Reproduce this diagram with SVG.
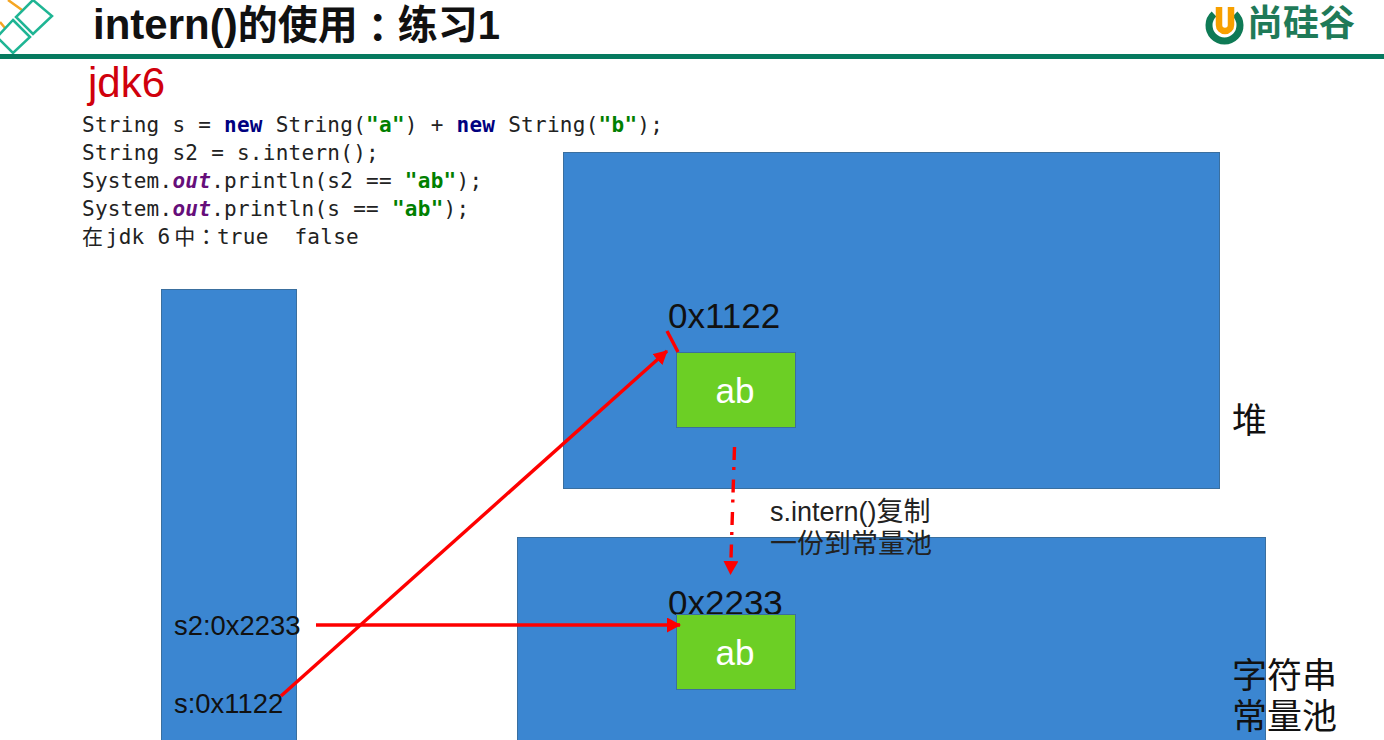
<svg xmlns="http://www.w3.org/2000/svg" width="1384" height="740" viewBox="0 0 1384 740">
<style>
.box{fill:#3b86d1;stroke:#3a6f9f;stroke-width:1}
.small{fill:#6ccf25;stroke:#3a6f9f;stroke-width:1}
text{font-family:"Liberation Sans","Noto Sans CJK SC",sans-serif}
.code{font-family:"DejaVu Sans Mono","Noto Sans CJK SC",monospace;font-size:21px;letter-spacing:.27px;fill:#222;white-space:pre}
.lab{font-size:27.4px;fill:#111}
.addr{font-size:35px;fill:#111}
.cjk{font-size:35px;fill:#111}
.ab{font-size:35px;fill:#fff;text-anchor:middle}
.ln{stroke:#fe0000;stroke-width:3.4;fill:none}
.kw{fill:#00007f;font-weight:bold}
.str{fill:#008000;font-weight:bold}
.fld{fill:#660e7a;font-weight:bold;font-style:italic}
.tc{font-family:"Noto Sans CJK TC",sans-serif}
</style>
<defs>
<marker id="ah" markerUnits="userSpaceOnUse" markerWidth="14" markerHeight="15" refX="13" refY="7.500" orient="auto"><path d="M0 0L14 7.500L0 15Z" fill="#fe0000"/></marker>
</defs>
<rect width="1384" height="740" fill="#fff"/>
<g id="header">
<path d="M8 0L22 10M0 22L5 28" stroke="#f5a623" stroke-width="2.5" fill="none"/>
<path d="M33 0L52 16L33 34L16 17Z" fill="none" stroke="#1fb594" stroke-width="2.5"/>
<path d="M13 20L30 37L13 53L-3 37Z" fill="none" stroke="#1fb594" stroke-width="2.5"/>
<rect x="0" y="54" width="1384" height="5" fill="#067a5f"/>
<text id="title" x="93" y="39" font-size="40" font-weight="bold" fill="#111"><tspan font-size="42">intern()</tspan>的使用<tspan class="tc" dy="3">：</tspan><tspan dy="-3">练习1</tspan></text>
<g id="logo">
<path d="M1214 14A15.500 15.500 0 1 0 1235 14" fill="none" stroke="#0e7a55" stroke-width="7"/>
<path d="M1219 7V25A6 6 0 0 0 1231 25V7" fill="none" stroke="#f7a000" stroke-width="6.500"/>
<text x="1247" y="36" font-size="36" font-weight="bold" fill="#1f7a58">尚硅谷</text>
</g>
</g>
<text id="jdk" x="88" y="97" font-size="42" fill="#d0000c">jdk6</text>
<g id="code">
<text class="code" x="82" y="132">String s = <tspan class="kw">new</tspan> String(<tspan class="str">"a"</tspan>) + <tspan class="kw">new</tspan> String(<tspan class="str">"b"</tspan>);</text>
<text class="code" x="82" y="160">String s2 = s.intern();</text>
<text class="code" x="82" y="188">System.<tspan class="fld">out</tspan>.println(s2 == <tspan class="str">"ab"</tspan>);</text>
<text class="code" x="82" y="216">System.<tspan class="fld">out</tspan>.println(s == <tspan class="str">"ab"</tspan>);</text>
<text class="code" x="82" y="244">在<tspan dx="2.500">jdk 6</tspan><tspan dx="4">中</tspan><tspan class="tc">：</tspan>true  false</text>
</g>
<g id="stack">
<rect class="box" x="161.500" y="289.500" width="135" height="460"/>
<text class="lab" x="174" y="635">s2:0x2233</text>
<text class="lab" x="174" y="713">s:0x1122</text>
</g>
<g id="heap">
<rect class="box" x="563.500" y="152.500" width="656" height="336"/>
<text class="cjk" x="1232" y="433">堆</text>
</g>
<g id="pool">
<rect class="box" x="517.500" y="537.500" width="748" height="212"/>
<text class="cjk" x="1232" y="688">字符串</text>
<text class="cjk" x="1232" y="729">常量池</text>
</g>
<g id="ab1">
<text class="addr" x="668" y="328">0x1122</text>
<rect class="small" x="676.500" y="352.500" width="119" height="75"/>
<text class="ab" x="735" y="403">ab</text>
</g>
<g id="ab2">
<text class="addr" x="668" y="615">0x2233</text>
<rect class="small" x="676.500" y="614.500" width="119" height="75"/>
<text class="ab" x="735" y="665">ab</text>
</g>
<text id="note" font-size="27" fill="#222"><tspan x="770" y="521">s.intern()复制</tspan><tspan x="770" y="553">一份到常量池</tspan></text>
<g id="connectors">
<path class="ln" d="M281 696L667 351" marker-end="url(#ah)"/>
<path class="ln" d="M667 331L678 352"/>
<path class="ln" d="M316 625H680" marker-end="url(#ah)"/>
<path class="ln" d="M734.500 447L730.500 574" stroke-dasharray="13 7 3 9.500" marker-end="url(#ah)"/>
</g>
</svg>
